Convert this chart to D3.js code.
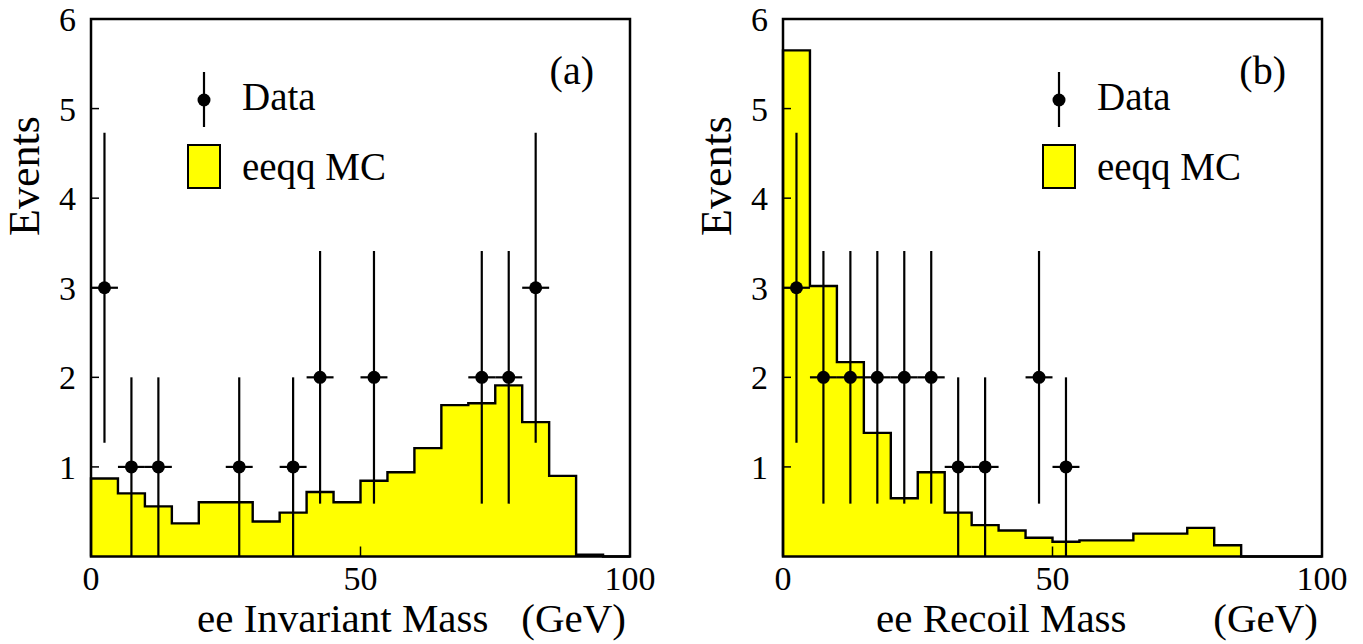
<!DOCTYPE html>
<html>
<head>
<meta charset="utf-8">
<script src="https://cdn.jsdelivr.net/npm/d3@7"></script>
<style>
  body { margin: 0; background: #fff; }
  svg text { font-family: "Liberation Serif", "Times New Roman", serif; fill: #000; }
</style>
</head>
<body>
<svg id="svg" width="1363" height="644"></svg>
<script>

/**
 * DATA
 */
var binStarts = [0, 5, 10, 15, 20, 25, 30, 35, 40, 45, 50, 55, 60, 65, 70, 75, 80, 85, 90, 95];
var binWidth = 5;

// eeqq MC, ee invariant mass (a)
var mcInvariant = [0.87, 0.705, 0.56, 0.37, 0.605, 0.605, 0.39, 0.49, 0.72, 0.605,
                   0.845, 0.94, 1.21, 1.69, 1.71, 1.91, 1.50, 0.90, 0.02, 0];
// eeqq MC, ee recoil mass (b)
var mcRecoil = [5.65, 3.02, 2.17, 1.38, 0.65, 0.94, 0.49, 0.35, 0.29, 0.21,
                0.165, 0.18, 0.18, 0.255, 0.255, 0.32, 0.125, 0, 0, 0];

// data points (a)
var dataInvX = [2.5, 7.5, 12.5, 27.5, 37.5, 42.5, 52.5, 72.5, 77.5, 82.5];
var dataInvN = [3, 1, 1, 1, 1, 2, 2, 2, 2, 3];
var dataInvErr = [1.73, 1, 1, 1, 1, 1.41, 1.41, 1.41, 1.41, 1.73];

// data points (b)
var dataRecX = [2.5, 7.5, 12.5, 17.5, 22.5, 27.5, 32.5, 37.5, 47.5, 52.5];
var dataRecN = [3, 2, 2, 2, 2, 2, 1, 1, 2, 1];
var dataRecErr = [1.73, 1.41, 1.41, 1.41, 1.41, 1.41, 1, 1, 1.41, 1];

var yTicks = [1, 2, 3, 4, 5, 6];
var xTicks = [0, 50, 100];

var panels = [
    { left: 91, right: 630, mc: mcInvariant, dx: dataInvX, dn: dataInvN, de: dataInvErr,
      tag: "(a)", title: "ee Invariant Mass", titleX: 197, legX: 204 },
    { left: 783, right: 1322, mc: mcRecoil, dx: dataRecX, dn: dataRecN, de: dataRecErr,
      tag: "(b)", title: "ee Recoil Mass", titleX: 876, legX: 1059 }
];

var plotTop = 19, plotBottom = 556.5;
var svg = d3.select("#svg");

panels.forEach(function(p) {
    var x = d3.scaleLinear().domain([0, 100]).range([p.left, p.right]);
    var y = d3.scaleLinear().domain([0, 6]).range([plotBottom, plotTop]);
    var g = svg.append("g");

    /* MC histogram */
    var pts = [[x(0), y(0)]];
    binStarts.forEach(function(b, i) {
        pts.push([x(b), y(p.mc[i])]);
        pts.push([x(b + binWidth), y(p.mc[i])]);
    });
    pts.push([x(100), y(0)]);
    g.append("path")
        .attr("d", d3.line()(pts) + "Z")
        .attr("fill", "#ffff00")
        .attr("stroke", "none");
    g.append("path")
        .attr("d", d3.line()(pts))
        .attr("fill", "none")
        .attr("stroke", "#000")
        .attr("stroke-width", 2.4);

    /* ticks (inside) */
    g.selectAll(".yt").data([1, 2, 3, 4, 5]).enter().append("line")
        .attr("x1", x(0)).attr("x2", x(0) + 8)
        .attr("y1", function(d) { return y(d); }).attr("y2", function(d) { return y(d); })
        .attr("stroke", "#000").attr("stroke-width", 1.5);
    g.append("line")
        .attr("x1", x(50)).attr("x2", x(50))
        .attr("y1", y(0)).attr("y2", y(0) - 10)
        .attr("stroke", "#000").attr("stroke-width", 1.5);

    /* frame */
    g.append("rect")
        .attr("x", p.left).attr("y", plotTop)
        .attr("width", p.right - p.left).attr("height", plotBottom - plotTop)
        .attr("fill", "none").attr("stroke", "#000").attr("stroke-width", 2.5);

    /* data with errors */
    p.dx.forEach(function(cx, i) {
        var n = p.dn[i], e = p.de[i];
        g.append("line")
            .attr("x1", x(cx)).attr("x2", x(cx))
            .attr("y1", y(Math.max(0, n - e))).attr("y2", y(n + e))
            .attr("stroke", "#000").attr("stroke-width", 2.2);
        g.append("line")
            .attr("x1", x(cx - binWidth / 2)).attr("x2", x(cx + binWidth / 2))
            .attr("y1", y(n)).attr("y2", y(n))
            .attr("stroke", "#000").attr("stroke-width", 2.2);
        g.append("circle")
            .attr("cx", x(cx)).attr("cy", y(n)).attr("r", 6.5)
            .attr("fill", "#000");
    });

    /* tick labels */
    g.selectAll(".yl").data(yTicks).enter().append("text")
        .attr("x", p.left - 15).attr("y", function(d) { return y(d) + 12; })
        .attr("text-anchor", "end").attr("font-size", 34)
        .text(function(d) { return d; });
    g.selectAll(".xl").data(xTicks).enter().append("text")
        .attr("x", function(d) { return x(d); }).attr("y", 590)
        .attr("text-anchor", "middle").attr("font-size", 34)
        .text(function(d) { return d; });

    /* axis titles */
    g.append("text")
        .attr("transform", "translate(" + (p.left - 52) + ",176) rotate(-90)")
        .attr("text-anchor", "middle").attr("font-size", 44)
        .text("Events");
    g.append("text")
        .attr("x", p.titleX).attr("y", 632)
        .attr("font-size", 41)
        .text(p.title);
    g.append("text")
        .attr("x", p.right - 4).attr("y", 632)
        .attr("text-anchor", "end").attr("font-size", 41)
        .text("(GeV)");

    /* panel tag */
    g.append("text")
        .attr("x", p.right - 36).attr("y", 84)
        .attr("text-anchor", "end").attr("font-size", 40)
        .text(p.tag);

    /* legend */
    g.append("line")
        .attr("x1", p.legX).attr("x2", p.legX).attr("y1", 72).attr("y2", 127)
        .attr("stroke", "#000").attr("stroke-width", 2.2);
    g.append("circle")
        .attr("cx", p.legX).attr("cy", 100).attr("r", 6.5).attr("fill", "#000");
    g.append("text")
        .attr("x", p.legX + 38).attr("y", 110).attr("font-size", 39)
        .text("Data");
    g.append("rect")
        .attr("x", p.legX - 16).attr("y", 145).attr("width", 32).attr("height", 43)
        .attr("fill", "#ffff00").attr("stroke", "#000").attr("stroke-width", 2);
    g.append("text")
        .attr("x", p.legX + 38).attr("y", 180).attr("font-size", 39)
        .text("eeqq MC");
});

</script>
</body>
</html>
